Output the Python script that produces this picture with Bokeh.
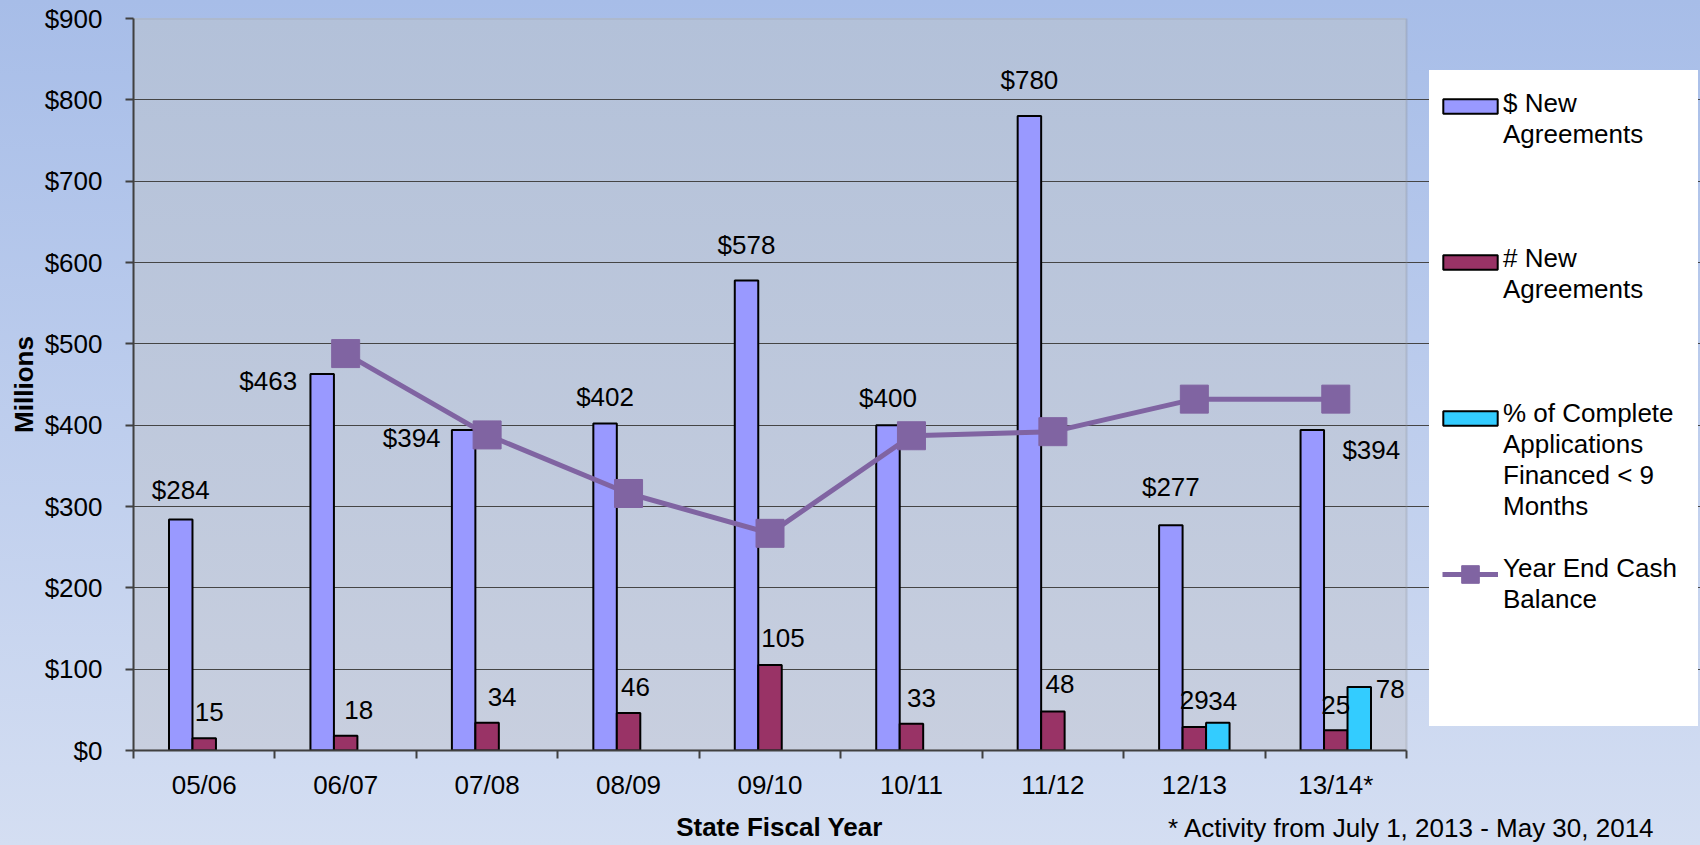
import math
from bokeh.plotting import figure
from bokeh.models import (ColumnDataSource, Range1d, LinearAxis, FixedTicker, Legend, LegendItem,
                          BoxAnnotation, GlobalInlineStyleSheet)
from bokeh.transform import dodge
from bokeh.core.properties import value
from bokeh.embed import file_html
from bokeh.resources import INLINE

NaN = float("nan")

# ---------------- data ----------------
categories = ["05/06", "06/07", "07/08", "08/09", "09/10", "10/11", "11/12", "12/13", "13/14*"]
dollar_new_agreements = [284, 463, 394, 402, 578, 400, 780, 277, 394]
count_new_agreements = [15, 18, 34, 46, 105, 33, 48, 29, 25]
pct_financed_lt9 = [NaN, NaN, NaN, NaN, NaN, NaN, NaN, 34, 78]
year_end_cash = [NaN, 488, 388, 316, 267, 387, 392, 432, 432]
y_ticks = [0, 100, 200, 300, 400, 500, 600, 700, 800, 900]
y_tick_labels = ["$0", "$100", "$200", "$300", "$400", "$500", "$600", "$700", "$800", "$900"]
x_title = "State Fiscal Year"
footnote = "* Activity from July 1, 2013 - May 30, 2014"

# ---------------- label placement (screen px) ----------------
dollar_dx = [0, -54, -52, 0, 0, 0, 0, 0, 59]
dollar_dy = [-30, 7, 8, -27, -35, -27, -36, -38, 20]
count_dx = [5, 13, 15, 7, 13, 10, 7, 0, 0]
count_dy = [-26, -26, -26, -26, -27, -26, -27, -27, -25]
pct_dx = [0, 0, 0, 0, 0, 0, 0, 5, 31]
pct_dy = [0, 0, 0, 0, 0, 0, 0, -22, 2]

FONT = "Liberation Sans"
FS = "26px"
BAR_W = 0.166
C_DOLLAR = "#9999ff"
C_COUNT = "#993366"
C_PCT = "#33ccff"
C_LINE = "#8064a2"

# layout (pixels): plot area spans x 133..1406, y 18..751 of a 1700x845 canvas;
# the frame runs on to the right edge so the legend can live inside it.
FIG_W, FIG_H = 1700, 845
PLOT_L, PLOT_R, PLOT_T, PLOT_B = 133, 1406, 18, 751
n = len(categories)
px_per_slot = (PLOT_R - PLOT_L) / n
x_end = (FIG_W - PLOT_L) / px_per_slot
centers = [i + 0.5 for i in range(n)]          # category slot centres on the x scale
boundaries = list(range(n + 1))                 # category slot edges (tick marks)
x_title_pos = (779 - PLOT_L) / px_per_slot
footnote_pos = (1411 - PLOT_L) / px_per_slot

p = figure(width=FIG_W, height=FIG_H,
           x_range=Range1d(0, x_end), y_range=Range1d(0, 900),
           output_backend="svg", toolbar_location=None, tools="", title=None,
           x_axis_location=None,
           min_border_left=PLOT_L, min_border_right=0, min_border_top=PLOT_T,
           min_border_bottom=FIG_H - PLOT_B,
           background_fill_color=None, border_fill_color=None)

p.styles = {"background":
            f"linear-gradient(to bottom, #b3c1d9, #c8cfdf) {PLOT_L}px {PLOT_T}px / "
            f"{PLOT_R - PLOT_L}px {PLOT_B - PLOT_T}px no-repeat"}
p.stylesheets = [GlobalInlineStyleSheet(css="body { background: linear-gradient(to bottom, #a7bde8, #d4def2) fixed; min-height: 100vh; }")]

p.outline_line_color = None
p.xgrid.visible = False
p.ygrid.grid_line_color = "#454545"
p.ygrid.grid_line_width = 1
p.ygrid.bounds = (0, n)

# plot-area border (top / right)
p.add_layout(BoxAnnotation(left=0, right=n, bottom=0, top=900, fill_color=None,
                           line_color="#8c8c8c", line_width=2, level="underlay"))

# ---------------- bars ----------------
dollar_src = ColumnDataSource(dict(x=centers, cat=categories, val=dollar_new_agreements,
                                   txt=[f"${v}" for v in dollar_new_agreements],
                                   dx=dollar_dx, dy=dollar_dy))
count_src = ColumnDataSource(dict(x=centers, cat=categories, val=count_new_agreements,
                                  txt=[str(v) for v in count_new_agreements],
                                  dx=count_dx, dy=count_dy))
pct_src = ColumnDataSource(dict(x=centers, cat=categories, val=pct_financed_lt9))
pct_idx = [i for i, v in enumerate(pct_financed_lt9) if not math.isnan(v)]
pct_lbl_src = ColumnDataSource(dict(x=[centers[i] for i in pct_idx],
                                    val=[pct_financed_lt9[i] for i in pct_idx],
                                    txt=[str(int(pct_financed_lt9[i])) for i in pct_idx],
                                    dx=[pct_dx[i] for i in pct_idx],
                                    dy=[pct_dy[i] for i in pct_idx]))

r_dollar = p.vbar(x=dodge("x", -BAR_W), top="val", width=BAR_W, source=dollar_src,
                  fill_color=C_DOLLAR, line_color="black", line_width=2)
r_count = p.vbar(x=dodge("x", 0), top="val", width=BAR_W, source=count_src,
                 fill_color=C_COUNT, line_color="black", line_width=2)
r_pct = p.vbar(x=dodge("x", BAR_W), top="val", width=BAR_W, source=pct_src,
               fill_color=C_PCT, line_color="black", line_width=2)

txt_kw = dict(text="txt", x_offset="dx", y_offset="dy", text_font=value(FONT), text_font_size=FS,
              text_align="center", text_baseline="middle", text_color="black")
p.text(x=dodge("x", -BAR_W), y="val", source=dollar_src, **txt_kw)
p.text(x=dodge("x", 0), y="val", source=count_src, **txt_kw)
p.text(x=dodge("x", BAR_W), y="val", source=pct_lbl_src, **txt_kw)

# ---------------- line ----------------
cash_src = ColumnDataSource(dict(x=centers, cat=categories, val=year_end_cash))
r_line = p.line(x="x", y="val", source=cash_src, line_color=C_LINE, line_width=5)
r_mark = p.scatter(x="x", y="val", source=cash_src, marker="square", size=28,
                   fill_color=C_LINE, line_color=C_LINE)

# ---------------- axes ----------------
yax = p.yaxis[0]
yax.ticker = FixedTicker(ticks=y_ticks)
yax.major_label_overrides = {t: l for t, l in zip(y_ticks, y_tick_labels)}
yax.major_label_text_font = FONT
yax.major_label_text_font_size = FS
yax.major_label_text_color = "black"
yax.major_label_standoff = 23
yax.major_tick_out = 8
yax.major_tick_in = 0
yax.minor_tick_out = 0
yax.minor_tick_in = 0
yax.major_tick_line_color = "#404040"
yax.major_tick_line_width = 2
yax.axis_line_color = "#404040"
yax.axis_line_width = 2
yax.axis_label = "Millions"
yax.axis_label_text_font = FONT
yax.axis_label_text_font_size = FS
yax.axis_label_text_font_style = "bold"
yax.axis_label_text_color = "black"
yax.axis_label_standoff = 3

no_ticks = dict(major_tick_in=0, major_tick_out=0, minor_tick_in=0, minor_tick_out=0, axis_line_color=None)

# 1) tick marks at category edges + the axis line
tick_axis = LinearAxis(ticker=FixedTicker(ticks=boundaries), bounds=(0, n),
                       major_label_text_font_size="0px", major_label_standoff=0,
                       major_tick_in=0, major_tick_out=8, minor_tick_in=0, minor_tick_out=0,
                       major_tick_line_color="#404040", major_tick_line_width=2,
                       axis_line_color="#404040", axis_line_width=2)
# 2) category names at slot centres
cat_axis = LinearAxis(ticker=FixedTicker(ticks=centers),
                      major_label_overrides={c: l for c, l in zip(centers, categories)},
                      major_label_text_font=FONT, major_label_text_font_size=FS,
                      major_label_text_color="black", major_label_standoff=11, **no_ticks)
# 3) bold x title
title_axis = LinearAxis(ticker=FixedTicker(ticks=[x_title_pos]),
                        major_label_overrides={x_title_pos: x_title},
                        major_label_text_font=FONT, major_label_text_font_size=FS,
                        major_label_text_font_style="bold",
                        major_label_text_color="black", major_label_standoff=9, **no_ticks)
# 4) footnote on the same row
foot_axis = LinearAxis(ticker=FixedTicker(ticks=[footnote_pos]),
                       major_label_overrides={footnote_pos: footnote},
                       major_label_text_font=FONT, major_label_text_font_size=FS,
                       major_label_text_color="black", major_label_standoff=-32, **no_ticks)
for ax in (tick_axis, cat_axis, title_axis, foot_axis):
    p.add_layout(ax, "below")

# ---------------- legend (inside the frame, right of the plot area) ----------------
labels_slots = ["$ New", "Agreements", " ", " ", " ",
                "# New", "Agreements", " ", " ", " ",
                "% of Complete", "Applications", "Financed < 9", "Months", " ",
                "Year End Cash", "Balance", " ", " ", " "]
legend_text = Legend(items=[LegendItem(label=t, renderers=[]) for t in labels_slots],
                     location=(1296, 24), orientation="vertical",
                     glyph_width=52, glyph_height=31,
                     label_height=31, label_width=177, label_standoff=4,
                     label_text_font=FONT, label_text_font_size=FS, label_text_color="black",
                     spacing=0, padding=17, margin=0,
                     border_line_color="white", border_line_width=1,
                     background_fill_color="white", background_fill_alpha=1.0)

overlay = dict(orientation="vertical", border_line_color=None, background_fill_alpha=0,
               label_height=1, label_standoff=0, label_text_font_size="1px", padding=0, margin=0)
legend_bars = Legend(items=[LegendItem(label=" ", renderers=[r_dollar]),
                            LegendItem(label=" ", renderers=[r_count]),
                            LegendItem(label=" ", renderers=[r_pct])],
                     location=(1303, 323), glyph_width=68, glyph_height=18, spacing=138, **overlay)
legend_line = Legend(items=[LegendItem(label=" ", renderers=[r_line, r_mark])],
                     location=(1309, 154), glyph_width=56, glyph_height=44, spacing=0, **overlay)

for lg in (legend_text, legend_bars, legend_line):
    p.add_layout(lg)

open("out.html", "w").write(file_html(p, INLINE))
